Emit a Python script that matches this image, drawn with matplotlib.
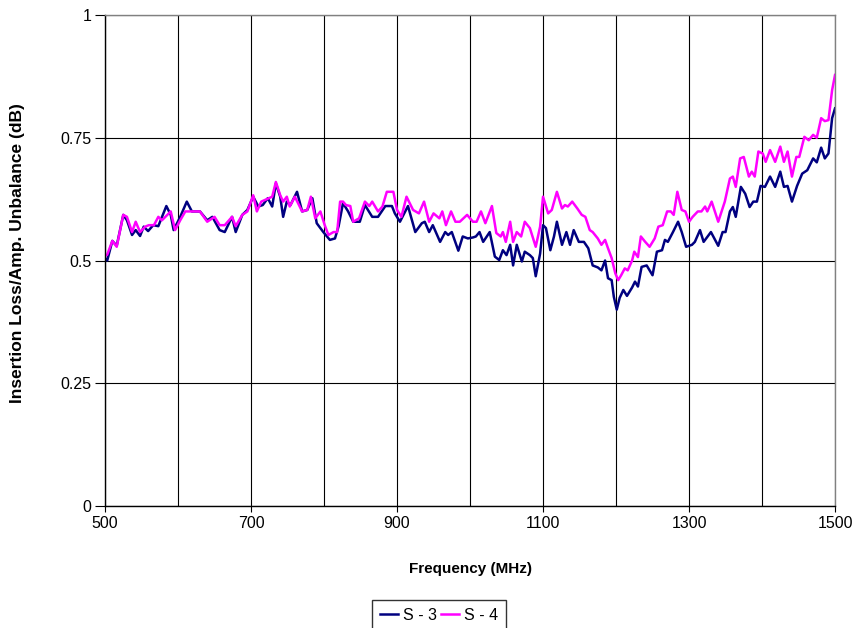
import matplotlib
matplotlib.use("Agg")
from matplotlib import pyplot as plt
from matplotlib.ticker import MultipleLocator

# S-3 trace (MHz, dB)
freq_s3 = [500, 503, 510, 516, 525, 530, 537, 542, 548, 553, 559, 566, 573, 584, 590, 594,
           603, 612, 619, 630, 640, 647, 657, 664, 674, 679, 688, 695, 703, 710, 716, 723,
           729, 734, 740, 744, 749, 754, 763, 770, 777, 784, 790, 799, 808, 815, 820, 826,
           833, 840, 849, 856, 866, 874, 884, 893, 897, 904, 915, 925, 934, 938, 944, 949,
           959, 966, 970, 975, 984, 990, 997, 1004, 1008, 1013, 1018, 1027, 1034, 1040, 1045,
           1050, 1055, 1059, 1064, 1071, 1075, 1082, 1086, 1090, 1096, 1100, 1104, 1110, 1115,
           1119, 1126, 1132, 1137, 1142, 1149, 1156, 1162, 1168, 1175, 1180, 1185, 1189, 1194,
           1197, 1201, 1205, 1210, 1215, 1222, 1226, 1230, 1235, 1242, 1246, 1250, 1256, 1263,
           1267, 1271, 1278, 1285, 1290, 1296, 1304, 1308, 1315, 1320, 1330, 1340, 1346, 1350,
           1356, 1360, 1364, 1371, 1377, 1383, 1388, 1393, 1398, 1404, 1411, 1418, 1425, 1430,
           1435, 1441, 1448, 1455, 1462, 1470, 1475, 1481, 1486, 1491, 1496, 1500]
loss_s3 = [0.505, 0.50, 0.54, 0.53, 0.593, 0.582, 0.552, 0.562, 0.55, 0.569, 0.56, 0.572, 0.57, 0.611, 0.593, 0.562,
           0.589, 0.62, 0.60, 0.60, 0.582, 0.589, 0.562, 0.558, 0.589, 0.558, 0.593, 0.603, 0.63, 0.61, 0.613, 0.627,
           0.61, 0.657, 0.63, 0.589, 0.62, 0.613, 0.64, 0.60, 0.603, 0.627, 0.576, 0.558, 0.542, 0.545, 0.57, 0.617,
           0.60, 0.579, 0.579, 0.613, 0.589, 0.589, 0.611, 0.611, 0.596, 0.579, 0.611, 0.558, 0.576, 0.579, 0.558, 0.572,
           0.538, 0.558, 0.552, 0.558, 0.52, 0.549, 0.545, 0.547, 0.549, 0.558, 0.538, 0.558, 0.508, 0.501, 0.521,
           0.511, 0.532, 0.49, 0.532, 0.498, 0.518, 0.511, 0.505, 0.468, 0.514, 0.572, 0.566, 0.521, 0.549,
           0.579, 0.532, 0.558, 0.532, 0.562, 0.538, 0.538, 0.525, 0.49, 0.486, 0.48, 0.50, 0.464, 0.46,
           0.426, 0.40, 0.424, 0.44, 0.428, 0.445, 0.457, 0.447, 0.487, 0.49, 0.48, 0.47, 0.518, 0.521,
           0.542, 0.538, 0.558, 0.579, 0.558, 0.528, 0.532, 0.538, 0.562, 0.538, 0.558, 0.53, 0.558, 0.558,
           0.60, 0.609, 0.589, 0.65, 0.636, 0.609, 0.62, 0.62, 0.652, 0.65, 0.671, 0.65, 0.681, 0.65,
           0.652, 0.62, 0.652, 0.677, 0.684, 0.708, 0.70, 0.73, 0.708, 0.718, 0.79, 0.81]

# S-4 trace (MHz, dB)
freq_s4 = [500, 503, 510, 516, 525, 530, 537, 542, 548, 555, 560, 567, 573, 578, 590, 596,
           603, 610, 630, 640, 650, 657, 664, 674, 679, 688, 695, 703, 708, 714, 729, 734,
           740, 744, 749, 753, 760, 770, 777, 782, 788, 795, 801, 806, 813, 818, 822, 826,
           830, 836, 840, 848, 856, 862, 866, 874, 880, 886, 895, 900, 906, 913, 922, 930,
           937, 944, 950, 958, 962, 967, 974, 980, 986, 996, 1004, 1009, 1015, 1021, 1030,
           1036, 1042, 1045, 1049, 1055, 1059, 1064, 1070, 1075, 1082, 1090, 1096, 1100, 1107,
           1112, 1119, 1126, 1130, 1134, 1140, 1147, 1153, 1158, 1164, 1168, 1175, 1180, 1185,
           1189, 1194, 1199, 1203, 1207, 1212, 1216, 1222, 1225, 1230, 1234, 1240, 1246, 1253,
           1258, 1264, 1270, 1275, 1279, 1284, 1290, 1295, 1300, 1305, 1312, 1317, 1322, 1325,
           1331, 1340, 1349, 1356, 1360, 1364, 1370, 1375, 1382, 1386, 1390, 1395, 1401, 1405,
           1411, 1418, 1425, 1430, 1435, 1441, 1447, 1451, 1458, 1464, 1470, 1475, 1481, 1486,
           1491, 1496, 1500]
loss_s4 = [0.509, 0.512, 0.54, 0.528, 0.593, 0.589, 0.558, 0.579, 0.558, 0.569, 0.572, 0.572, 0.589, 0.582, 0.60, 0.562,
           0.582, 0.60, 0.60, 0.579, 0.589, 0.572, 0.572, 0.589, 0.57, 0.593, 0.60, 0.633, 0.60, 0.62, 0.63, 0.66,
           0.633, 0.62, 0.63, 0.61, 0.63, 0.60, 0.603, 0.63, 0.586, 0.60, 0.572, 0.552, 0.558, 0.558, 0.62, 0.62,
           0.613, 0.611, 0.579, 0.586, 0.62, 0.611, 0.62, 0.60, 0.61, 0.64, 0.64, 0.603, 0.589, 0.63, 0.603, 0.596,
           0.62, 0.579, 0.596, 0.586, 0.60, 0.572, 0.60, 0.579, 0.579, 0.593, 0.579, 0.579, 0.60, 0.576, 0.611,
           0.556, 0.549, 0.558, 0.538, 0.579, 0.538, 0.558, 0.549, 0.579, 0.566, 0.528, 0.569, 0.63, 0.596,
           0.603, 0.64, 0.606, 0.613, 0.61, 0.62, 0.606, 0.593, 0.589, 0.562, 0.558, 0.545, 0.532, 0.542,
           0.525, 0.505, 0.474, 0.46, 0.47, 0.484, 0.48, 0.50, 0.518, 0.507, 0.549, 0.538, 0.528, 0.545,
           0.569, 0.572, 0.60, 0.60, 0.593, 0.64, 0.603, 0.60, 0.579, 0.589, 0.60, 0.60, 0.61, 0.60,
           0.62, 0.579, 0.62, 0.667, 0.671, 0.65, 0.708, 0.711, 0.671, 0.681, 0.671, 0.722, 0.718, 0.701,
           0.725, 0.701, 0.732, 0.701, 0.722, 0.671, 0.711, 0.711, 0.752, 0.745, 0.756, 0.75, 0.79, 0.784,
           0.786, 0.847, 0.878]

x_ticks = [500, 700, 900, 1100, 1300, 1500]
y_ticks = [0, 0.25, 0.5, 0.75, 1]
y_labels = ["0", "0.25", "0.5", "0.75", "1"]

plt.rcParams['font.family'] = ['Liberation Sans', 'DejaVu Sans']

fig = plt.figure(figsize=(8.56, 6.28), dpi=100)
ax = fig.add_axes([0.1227, 0.1943, 0.8528, 0.7817])

ax.plot(freq_s3, loss_s3, color='#000080', linewidth=1.8, label='S - 3')
ax.plot(freq_s4, loss_s4, color='#FF00FF', linewidth=1.8, label='S - 4')

ax.set_xlim(500, 1500)
ax.set_ylim(0, 1)
ax.set_xticks(x_ticks)
ax.xaxis.set_minor_locator(MultipleLocator(100))
ax.set_yticks(y_ticks)
ax.set_yticklabels(y_labels)
ax.tick_params(axis='both', labelsize=11.5, direction='out', length=4, width=0.8, colors='black')
ax.tick_params(axis='y', length=7, pad=3)
ax.tick_params(axis='x', which='minor', length=0)
ax.grid(True, which='both', color='black', linewidth=0.8)
ax.set_axisbelow(True)
for s in ax.spines.values():
    s.set_color('#808080')
    s.set_linewidth(1.0)
ax.spines['left'].set_color('black')
ax.spines['bottom'].set_color('black')

ax.set_xlabel('Frequency (MHz)', fontsize=11, fontweight='bold')
ax.xaxis.set_label_coords(0.5, -(569 - 506) / 491, transform=ax.transAxes)
ax.xaxis.label.set_va('center')
ax.set_ylabel('Insertion Loss/Amp. Unbalance (dB)', fontsize=12.5, fontweight='bold')
ax.yaxis.set_label_coords(-(105 - 17) / 730, (506 - 253) / 491, transform=ax.transAxes)
ax.yaxis.label.set_va('center')

leg = fig.legend(loc='upper center', bbox_to_anchor=(439 / 856, 1 - 600 / 628), ncol=2,
                 fontsize=11.5, frameon=True, fancybox=False, edgecolor='black',
                 handlelength=1.1, handletextpad=0.3, columnspacing=0.3,
                 borderpad=0.5, borderaxespad=0)
leg.get_frame().set_linewidth(1.0)

fig.savefig('out.png', dpi=100)
